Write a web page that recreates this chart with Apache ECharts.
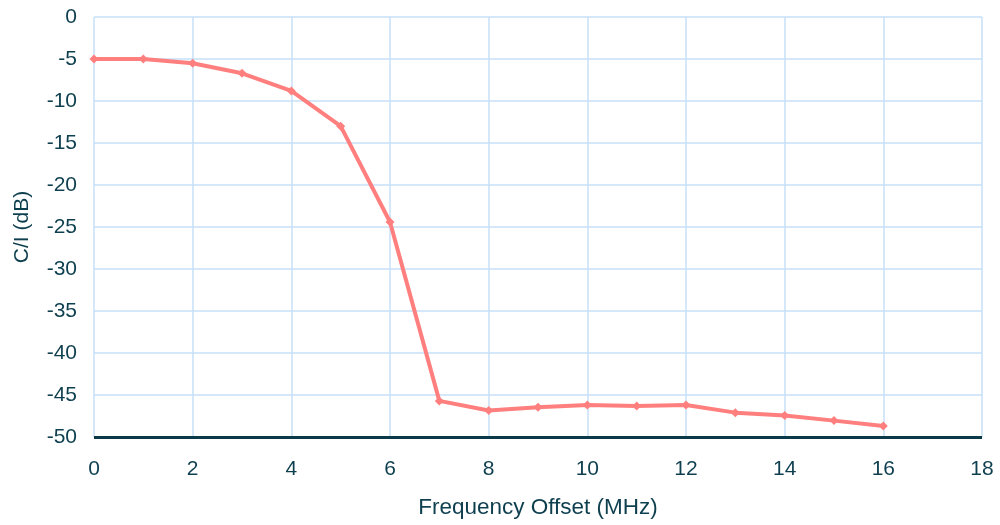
<!DOCTYPE html>
<html><head><meta charset="utf-8">
<script src="https://cdn.jsdelivr.net/npm/echarts@6/dist/echarts.min.js"></script>
<style>html,body{margin:0;padding:0;background:#fff}#c{width:1000px;height:525px}</style>
</head><body><div id="c"></div>
<script>
const freqOffset = [0,1,2,3,4,5,6,7,8,9,10,11,12,13,14,15,16];
const ciValues = [-5.0,-5.0,-5.5,-6.7,-8.8,-13.0,-24.4,-45.7,-46.85,-46.45,-46.2,-46.3,-46.2,-47.1,-47.45,-48.05,-48.7];
const xTicks = {min:0,max:18,interval:2};
const yTicks = {min:-50,max:0,interval:5};
const textColor = '#0e3f4f';
const font = '"Liberation Sans", Arial, sans-serif';
const chart = echarts.init(document.getElementById('c'));
chart.setOption({
  animation:false,
  grid:{left:94,right:18,top:17,bottom:88,containLabel:false},
  xAxis:{type:'value',min:xTicks.min,max:xTicks.max,interval:xTicks.interval,
    name:'Frequency Offset (MHz)',nameLocation:'middle',nameGap:59,
    nameTextStyle:{color:textColor,fontSize:22.5,fontFamily:font},
    axisLine:{show:false},axisTick:{show:false},
    axisLabel:{color:textColor,fontSize:21,fontFamily:font,margin:22},
    splitLine:{show:true,lineStyle:{color:'#c6e0f7',width:1.5}}},
  yAxis:{type:'value',min:yTicks.min,max:yTicks.max,interval:yTicks.interval,
    name:'C/I (dB)',nameLocation:'middle',nameGap:61,nameRotate:90,
    nameTextStyle:{color:textColor,fontSize:21,fontFamily:font},
    axisLine:{show:false},axisTick:{show:false},
    axisLabel:{color:textColor,fontSize:21,fontFamily:font,margin:17},
    splitLine:{show:true,lineStyle:{color:'#c6e0f7',width:1.5}}},
  series:[
    {type:'line',data:freqOffset.map((x,i)=>[x,ciValues[i]]),
     lineStyle:{color:'#ff7f7f',width:4},itemStyle:{color:'#ff7f7f'},
     symbol:'diamond',symbolSize:9,showSymbol:true,
     markLine:{silent:true,symbol:'none',label:{show:false},
       lineStyle:{color:'#0a3a48',width:3,type:'solid'},data:[{yAxis:-50}]}}
  ]
});
</script></body></html>
